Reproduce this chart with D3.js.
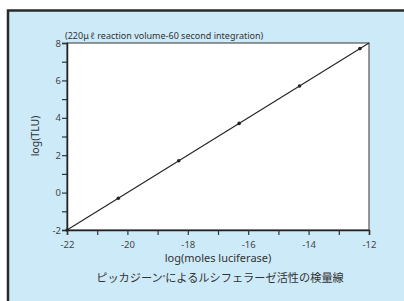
<!DOCTYPE html>
<html><head><meta charset="utf-8">
<script src="https://cdn.jsdelivr.net/npm/d3@7"></script>
<style>body{margin:0;background:#fff;} svg{display:block;font-family:"Noto Sans","Open Sans",sans-serif;}</style>
</head><body>
<svg id="c" width="404" height="301"></svg>
<script>
const xData = [-20.3, -18.3, -16.3, -14.3, -12.3];
const yData = [-0.3, 1.7, 3.7, 5.7, 7.7];
const fitLine = [[-22, -2], [-12, 8]];
const xTicks = [-22, -20, -18, -16, -14, -12];
const yTicks = [-2, 0, 2, 4, 6, 8];
const xMinor = d3.range(-22, -11, 1);
const yMinor = d3.range(-2, 9, 1);
const noteText = "(220\u03BC\u2009\u2113 reaction volume-60 second integration)";
const xTitle = "log(moles luciferase)";
const yTitle = "log(TLU)";

const svg = d3.select("#c");
svg.append("rect").attr("x", 8).attr("y", 10.5).attr("width", 404).attr("height", 300)
  .attr("fill", "#cdeaf9").attr("stroke", "#2a2a2a").attr("stroke-width", 2.5);

const x = d3.scaleLinear().domain([-22, -12]).range([67, 369]);
const y = d3.scaleLinear().domain([-2, 8]).range([230, 43]);

svg.append("rect").attr("x", x(-22)).attr("y", y(8)).attr("width", x(-12) - x(-22)).attr("height", y(-2) - y(8))
  .attr("fill", "#fff").attr("stroke", "#555").attr("stroke-width", 1.2);

const xa = svg.append("g").attr("transform", `translate(0,${y(-2)})`)
  .call(d3.axisBottom(x).tickValues(xMinor).tickSize(5).tickFormat(d => xTicks.includes(d) ? d : ""));
const ya = svg.append("g").attr("transform", `translate(${x(-22)},0)`)
  .call(d3.axisLeft(y).tickValues(yMinor).tickSize(5).tickFormat(d => yTicks.includes(d) ? d : ""));
[xa, ya].forEach(a => {
  a.select(".domain").attr("stroke", "#222").attr("stroke-width", 1.5);
  a.selectAll(".tick line").attr("stroke", "#333").attr("stroke-width", 1.2);
  a.selectAll("text").attr("fill", "#444").style("font-size", "9.5px").style("font-family", '"Noto Sans",sans-serif');
});
xa.selectAll("text").attr("dy", "1.0em").attr("y", 8);
ya.selectAll("text").attr("x", -6);

svg.append("line").attr("x1", x(fitLine[0][0])).attr("y1", y(fitLine[0][1]))
  .attr("x2", x(fitLine[1][0])).attr("y2", y(fitLine[1][1])).attr("stroke", "#222").attr("stroke-width", 1.1);

svg.selectAll("circle.pt").data(xData).enter().append("circle").attr("class", "pt")
  .attr("cx", d => x(d)).attr("cy", (d, i) => y(yData[i])).attr("r", 1.8).attr("fill", "#222");
svg.append("circle").attr("cx", x(-22)).attr("cy", y(-2)).attr("r", 1.6).attr("fill", "#222");

svg.append("text").attr("x", 65).attr("y", 39).attr("font-size", 9).attr("fill", "#333").text(noteText);
svg.append("text").attr("x", 218).attr("y", 262).attr("text-anchor", "middle").attr("font-size", 11).attr("fill", "#333").text(xTitle);
svg.append("text").attr("transform", "translate(39,136) rotate(-90)").attr("text-anchor", "middle").attr("font-size", 10.5).attr("fill", "#333").text(yTitle);

const cap = svg.append("text").attr("x", 220).attr("y", 282).attr("text-anchor", "middle").attr("font-size", 11.2).attr("fill", "#333")
  .style("font-family", '"Noto Sans CJK JP",sans-serif');
cap.append("tspan").text("ピッカジーン");
cap.append("tspan").attr("font-size", 5).attr("dy", -3).text("®");
cap.append("tspan").attr("dy", 3).text("によるルシフェラーゼ活性の検量線");
</script>
</body></html>
